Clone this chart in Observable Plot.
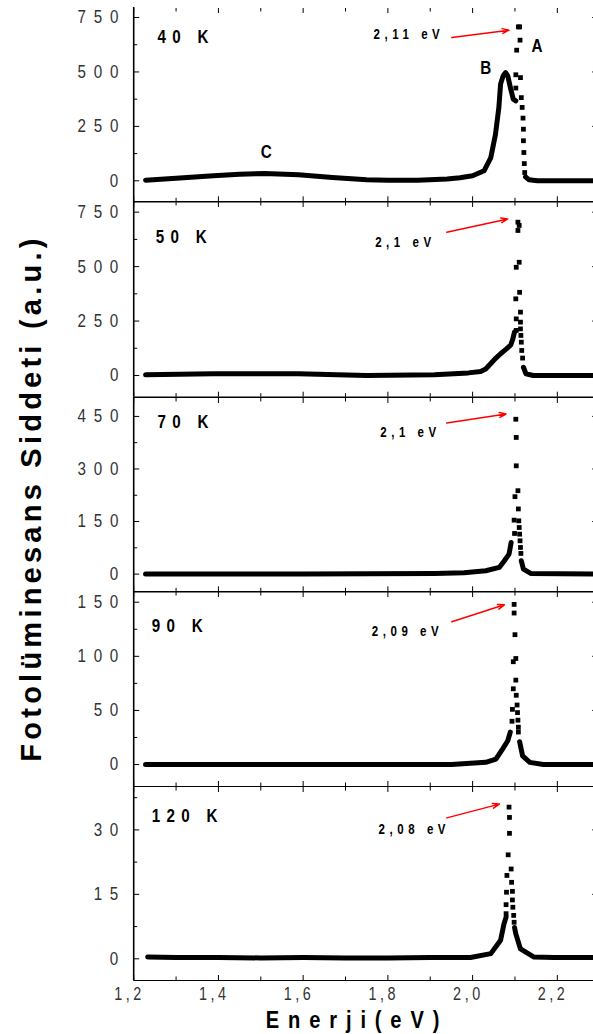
<!DOCTYPE html>
<html><head><meta charset="utf-8">
<script src="https://cdn.jsdelivr.net/npm/d3@7"></script>
<script src="https://cdn.jsdelivr.net/npm/@observablehq/plot@0.6"></script>
<style>
html,body{margin:0;padding:0;background:#fff;}
body{width:593px;height:1034px;overflow:hidden;position:relative;}
svg.panel{position:absolute;left:0;max-width:none !important;}
</style></head><body>
<script>
// ---------------- DATA ----------------
const panelLabels = ["40 K", "50 K", "70 K", "90 K", "120 K"];
const peakLabels = ["2,11 eV", "2,1 eV", "2,1 eV", "2,09 eV", "2,08 eV"];
const bandLabels = ["B", "A", "C"];
const energyTicks = [1.2, 1.4, 1.6, 1.8, 2.0, 2.2];
const energyMinorTicks = [1.3, 1.5, 1.7, 1.9, 2.1, 2.3];

const yMajor40 = [0, 250, 500, 750], yMinor40 = [125, 375, 625];
const yMajor50 = [0, 250, 500, 750], yMinor50 = [125, 375, 625];
const yMajor70 = [0, 150, 300, 450], yMinor70 = [75, 225, 375];
const yMajor90 = [0, 50, 100, 150], yMinor90 = [25, 75, 125];
const yMajor120 = [0, 15, 30], yMinor120 = [7.5, 22.5, 37.5];

// 40 K : dense part (null = gap) and sparse points
const e40 = [1.228, 1.30, 1.388, 1.45, 1.509, 1.589, 1.669, 1.750, 1.80, 1.870, 1.940, 1.970, 2.000, 2.027, 2.043, 2.054, 2.062, 2.066, 2.072, 2.078, 2.083, 2.090, 2.096, 2.102, null, 2.125, 2.133, 2.153, 2.20, 2.30];
const i40 = [3, 12, 23, 30, 34, 28, 15, 5, 3, 3, 8, 14, 23, 46, 107, 214, 337, 444, 482, 497, 482, 421, 375, 367, null, 18, 5, 0, 0, 0];
const e40Dots = [2.108, 2.111, 2.112, 2.104, 2.102, 2.113, 2.102, 2.115, 2.117, 2.119, 2.120, 2.120, 2.121, 2.122, 2.123];
const i40Dots = [707, 707, 646, 600, 487, 474, 426, 382, 337, 288, 237, 184, 130, 79, 38];

// 50 K
const e50 = [1.228, 1.388, 1.589, 1.750, 1.910, 1.990, 2.019, 2.031, 2.043, 2.055, 2.066, 2.080, 2.090, 2.095, 2.099, null, 2.120, 2.126, 2.143, 2.30];
const i50 = [3, 8, 8, 0, 3, 12, 18, 30, 55, 80, 100, 122, 140, 168, 200, null, 38, 8, 0, 0];
const e50Dots = [2.107, 2.110, 2.107, 2.103, 2.110, 2.102, 2.111, 2.103, 2.113, 2.103, 2.113, 2.113, 2.114, 2.115, 2.116, 2.118];
const i50Dots = [704, 689, 666, 497, 520, 352, 382, 260, 291, 207, 245, 214, 184, 153, 115, 80];

// 70 K
const e70 = [1.228, 1.60, 1.910, 1.980, 2.031, 2.063, 2.075, 2.086, 2.091, null, 2.115, 2.120, 2.137, 2.30];
const i70 = [0, 0, 2, 4, 9.5, 19, 38, 57, 90, null, 38, 14, 2, 0];
const e70Dots = [2.102, 2.103, 2.103, 2.107, 2.100, 2.108, 2.098, 2.109, 2.110, 2.099, 2.111, 2.112, 2.113, 2.114];
const i70Dots = [442, 390, 309, 238, 221, 186, 154, 152, 133, 116, 114, 95, 76, 59];

// 90 K
const e90 = [1.228, 1.60, 1.950, 2.031, 2.055, 2.071, 2.083, 2.089, null, 2.111, 2.118, 2.135, 2.167, 2.30];
const i90 = [0, 0, 0, 2, 5, 14.5, 22, 30, null, 21, 8, 2, 0, 0];
const e90Dots = [2.098, 2.098, 2.100, 2.102, 2.096, 2.102, 2.096, 2.103, 2.105, 2.094, 2.106, 2.107, 2.093, 2.108, 2.108];
const i90Dots = [148, 140, 120, 98, 95, 78, 70, 64, 55, 51, 48, 41, 40, 34.5, 30];

// 120 K
const e120 = [1.233, 1.30, 1.40, 1.50, 1.60, 1.70, 1.80, 1.90, 1.995, 2.043, 2.066, 2.074, 2.079, null, 2.099, 2.102, 2.113, 2.145, 2.192, 2.30];
const i120 = [0.4, 0.3, 0.3, 0.2, 0.3, 0.2, 0.2, 0.3, 0.3, 1.2, 4.3, 8.1, 9.7, null, 7.3, 5.8, 2.3, 0.4, 0.3, 0.3];
const e120Dots = [2.086, 2.087, 2.087, 2.084, 2.091, 2.081, 2.092, 2.080, 2.094, 2.094, 2.079, 2.095, 2.079, 2.097, 2.098];
const i120Dots = [35.3, 32.9, 29.2, 24.2, 20.9, 19.4, 17.8, 15.5, 15.7, 13.7, 12.6, 12.0, 10.5, 10.1, 8.5];

// ---------------- LAYOUT (positions in data units / pixels) ----------------
const frames = [[6.7, 201], [201, 396.7], [396.7, 591], [591, 786], [786, 980]];
const yDomains = [[-96.4, 796], [-99.6, 799], [-50.5, 504], [-20.3, 159.9], [-5.05, 40.1]];
const labelPos = [[1.256, 658], [1.252, 635], [1.256, 433], [1.2425, 128], [1.2425, 33.3]];
const peakPos = [[1.766, 673], [1.770, 612], [1.782, 404], [1.762, 123], [1.778, 30]];
const arrowPos = [[1.951, 658, 2.086, 692], [1.939, 658, 2.083, 719], [1.939, 431, 2.079, 457], [1.951, 132, 2.075, 147.6], [1.939, 32.8, 2.063, 36]];
const bandPos = [[2.031, 520], [2.152, 620], [1.513, 130]];

const series = [
  [e40, i40, e40Dots, i40Dots, yMajor40, yMinor40],
  [e50, i50, e50Dots, i50Dots, yMajor50, yMinor50],
  [e70, i70, e70Dots, i70Dots, yMajor70, yMinor70],
  [e90, i90, e90Dots, i90Dots, yMajor90, yMinor90],
  [e120, i120, e120Dots, i120Dots, yMajor120, yMinor120]
];

// ---------------- FONTS ----------------
// Arial-Narrow look: Liberation Sans compressed horizontally via textLength
const ctx = document.createElement("canvas").getContext("2d");
function tw(str, font) { ctx.font = font; return ctx.measureText(str).width; }
const FAM = "'Liberation Sans', Arial, sans-serif";
const SQ = 0.82;
function fit(str, weight, size, target, sq) { return Math.max(0, (target / sq - tw(str, `${weight} ${size}px ${FAM}`)) / (str.length - 1)); }
const sY = fit("750", "normal", 18.5, 40.8, SQ);
const sX = fit("1,2", "normal", 17.5, 27, SQ);
const sP = fit("40 K", "bold", 18.5, 51, SQ);
const sE = fit("2,11 eV", "bold", 14, 66.3, SQ);
const sT = fit("Enerji(eV)", "bold", 24.5, 173.5, SQ);
const sYT = fit("Fotolüminesans Siddeti (a.u.)", "bold", 29, 523, 1);

const st = document.createElement("style");
st.textContent = `
svg text { font-family: ${FAM}; }
g[aria-label="y-axis tick label"] text { letter-spacing: ${sY}px; fill: #333; }
g[aria-label="x-axis tick label"] text { letter-spacing: ${sX}px; fill: #333; font-size: 17.5px; }
g[aria-label="text"][font-size="18.5"] text { letter-spacing: ${sP}px; }
g[aria-label="text"][font-size="14"] text { letter-spacing: ${sE}px; }
`;
document.head.appendChild(st);

function compress(t, sq) {
  const L = t.getComputedTextLength();
  if (L > 0) {
    t.setAttribute("textLength", (L * sq).toFixed(2));
    t.setAttribute("lengthAdjust", "spacingAndGlyphs");
  }
}

// ---------------- PANELS ----------------
const W = 612, ML = 133.2, MR = W - 599.2;
const fmtE = d => d.toFixed(1).replace(".", ",");

series.forEach(([ex, iy, dx_, dy_, major, minor], k) => {
  const [ft, fb] = frames[k];
  const mt = 2, mb = k === 4 ? 32 : 2;
  const H = fb - ft + mt + mb;
  const [lo, hi] = yDomains[k];
  const lineData = ex.map((x, j) => ({e: x, v: iy[j]}));
  const dotData = dx_.map((x, j) => ({e: x, v: dy_[j]}));
  const noText = () => "";
  const marks = [
    Plot.line(lineData, {x: "e", y: "v", stroke: "#000", strokeWidth: 5, strokeLinejoin: "round", strokeLinecap: "round"}),
    Plot.dot(dotData, {x: "e", y: "v", symbol: "square", r: 2.7, fill: "#000", stroke: "none"}),
    Plot.ruleX([1.2], {stroke: "#000", strokeWidth: 1.6}),
    Plot.ruleY([lo], {stroke: "#000", strokeWidth: 1.2}),
    k > 0 ? Plot.ruleY([hi], {stroke: "#000", strokeWidth: 1.2}) : null,
    Plot.axisY({ticks: major, anchor: "left", tickSize: 6, dx: 6, tickFormat: noText, label: null}),
    Plot.axisY({ticks: minor, anchor: "left", tickSize: 4, dx: 4, tickFormat: noText, label: null}),
    Plot.axisY({ticks: major, anchor: "right", tickSize: 8, dx: -8, tickFormat: noText, label: null}),
    Plot.axisY({ticks: major, anchor: "left", tickSize: 0, tickPadding: 15.4 - sY * SQ, tickFormat: d => String(d), label: null}),
    Plot.axisX({ticks: energyTicks, anchor: "bottom", tickSize: 5, dy: -5, tickFormat: noText, label: null}),
    Plot.axisX({ticks: energyMinorTicks, anchor: "bottom", tickSize: 3.5, dy: -3.5, tickFormat: noText, label: null}),
    Plot.axisX({ticks: energyTicks, anchor: "top", tickSize: 5, dy: 5, tickFormat: noText, label: null}),
    Plot.axisX({ticks: energyMinorTicks, anchor: "top", tickSize: 3.5, dy: 3.5, tickFormat: noText, label: null}),
    Plot.text([{x: labelPos[k][0], y: labelPos[k][1], t: panelLabels[k]}], {x: "x", y: "y", text: "t", textAnchor: "start", lineAnchor: "middle", fontSize: 18.5, fontWeight: "bold", fill: "#000"}),
    Plot.text([{x: peakPos[k][0], y: peakPos[k][1], t: peakLabels[k]}], {x: "x", y: "y", text: "t", textAnchor: "start", lineAnchor: "middle", fontSize: 14, fontWeight: "bold", fill: "#000"}),
    Plot.arrow([{x1: arrowPos[k][0], y1: arrowPos[k][1], x2: arrowPos[k][2], y2: arrowPos[k][3]}], {x1: "x1", y1: "y1", x2: "x2", y2: "y2", stroke: "#f00", strokeWidth: 1.5, headLength: 7, headAngle: 40})
  ];
  if (k === 0) {
    marks.push(Plot.text(bandLabels.map((t, j) => ({x: bandPos[j][0], y: bandPos[j][1], t})), {x: "x", y: "y", text: "t", textAnchor: "middle", lineAnchor: "middle", fontSize: 18.6, fontWeight: "bold", fill: "#000"}));
  }
  if (k === 4) {
    marks.push(Plot.axisX({ticks: energyTicks, anchor: "bottom", tickSize: 0, tickPadding: 7, dx: -6 + sX * SQ / 2, tickFormat: fmtE, label: null}));
  }
  const svg = Plot.plot({
    width: W, height: H,
    marginLeft: ML, marginRight: MR, marginTop: mt, marginBottom: mb,
    x: {domain: [1.2, 2.3]},
    y: {domain: [lo, hi]},
    style: {background: "transparent", fontSize: "18.5px", fontFamily: FAM, overflow: "visible", maxWidth: "none"},
    marks
  });
  svg.classList.add("panel");
  svg.style.position = "absolute";
  svg.style.left = "0px";
  svg.style.top = (ft - mt) + "px";
  svg.style.maxWidth = "none";
  svg.style.width = W + "px";
  svg.style.height = H + "px";
  document.body.appendChild(svg);
  svg.querySelectorAll('g[aria-label="y-axis tick label"] text, g[aria-label="x-axis tick label"] text, g[aria-label="text"] text').forEach(t => compress(t, SQ));
});

// ---------------- TITLES ----------------
const ov = d3.select("body").append("svg")
  .attr("width", 593).attr("height", 1034)
  .style("position", "absolute").style("left", "0px").style("top", "0px").style("pointer-events", "none");
const xt = ov.append("text")
  .attr("x", 352.6 + sT * SQ / 2).attr("y", 1019 + 0.358 * 24.5)
  .attr("text-anchor", "middle")
  .style("font-family", FAM).style("font-weight", "bold").style("font-size", "24.5px")
  .style("letter-spacing", sT + "px").attr("fill", "#000")
  .text("Enerji(eV)");
compress(xt.node(), SQ);
ov.append("text")
  .attr("transform", `translate(${30.5 + 0.358 * 29},${498}) rotate(-90)`)
  .attr("text-anchor", "middle")
  .style("font-family", FAM).style("font-weight", "bold").style("font-size", "29px")
  .style("letter-spacing", sYT + "px").attr("fill", "#000")
  .text("Fotolüminesans Siddeti (a.u.)");
</script>
</body></html>
